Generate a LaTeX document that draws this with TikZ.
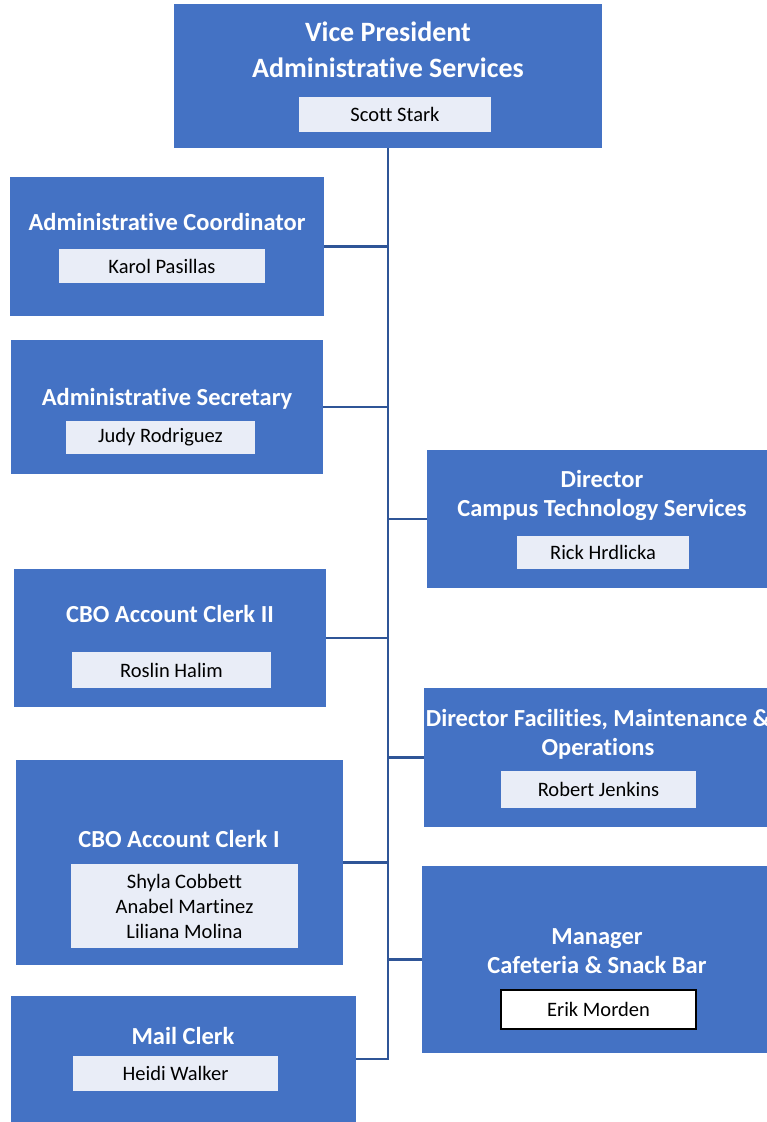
\documentclass[tikz,border=0pt]{standalone}
\usepackage{fontspec}
\setmainfont{Carlito}[Ligatures={NoCommon}]
\usetikzlibrary{positioning}
\definecolor{boxblue}{HTML}{4472C4}
\definecolor{namefill}{HTML}{E9EDF7}
\definecolor{linkblue}{HTML}{2F5597}
\begin{document}
\begin{tikzpicture}[x=1pt, y=-1pt, thick]
  \tikzstyle{post} = [rectangle, fill=boxblue, inner sep=0pt]
  \tikzstyle{title} = [text=white, font=\fontsize{24.5}{29}\selectfont\bfseries, align=center, inner sep=0pt]
  \tikzstyle{person} = [rectangle, fill=namefill, font=\fontsize{20.5}{25}\selectfont, align=center, inner sep=0pt]
  \tikzstyle{line} = [draw=linkblue, line width=2.5pt]

  \useasboundingbox (0,0) rectangle (767,1122);

  \node [post, minimum width=428pt, minimum height=144pt] (vp) at (388,76) {};
  \node [title, font=\fontsize{28}{36}\selectfont\bfseries] (vptitle) at (388,50) {Vice President\\Administrative Services};
  \node [person, minimum width=192pt, minimum height=35pt] (vpname) at (395,114.5) {Scott Stark};

  \node [post, minimum width=314pt, minimum height=139pt] (coord) at (167,246.5) {};
  \node [title] (coordtitle) at (167,222) {Administrative Coordinator};
  \node [person, minimum width=206pt, minimum height=34pt] (coordname) at (162,266) {Karol Pasillas};

  \node [post, minimum width=312pt, minimum height=134pt] (sec) at (167,407) {};
  \node [title] (sectitle) at (167,399) {Administrative Secretary};
  \node [person, minimum width=189pt, minimum height=33pt] (secname) at (160.5,437.5) {Judy Rodriguez};

  \node [post, minimum width=340pt, minimum height=138pt] (cts) at (597,519) {};
  \node [title] (ctstitle) at (602,495.5) {Director\\Campus Technology Services};
  \node [person, minimum width=172pt, minimum height=33pt] (ctsname) at (603,552.5) {Rick Hrdlicka};

  \node [post, minimum width=312pt, minimum height=138pt] (clerktwo) at (170,638) {};
  \node [title] (clerktwotitle) at (170,614) {CBO Account Clerk II};
  \node [person, minimum width=199pt, minimum height=36pt] (clerktwoname) at (171.5,670) {Roslin Halim};

  \node [post, minimum width=343pt, minimum height=139pt] (fac) at (595.5,757.5) {};
  \node [title] (factitle) at (598,734) {Director Facilities, Maintenance \&\\Operations};
  \node [person, minimum width=195pt, minimum height=37pt] (facname) at (598.5,789.5) {Robert Jenkins};

  \node [post, minimum width=327pt, minimum height=205pt] (clerkone) at (179.5,862.5) {};
  \node [title] (clerkonetitle) at (179,839) {CBO Account Clerk I};
  \node [person, minimum width=227pt, minimum height=84pt] (clerkonename) at (184.5,906) {Shyla Cobbett\\Anabel Martinez\\Liliana Molina};

  \node [post, minimum width=345pt, minimum height=187pt] (mgr) at (594.5,959.5) {};
  \node [title] (mgrtitle) at (597,951) {Manager\\Cafeteria \& Snack Bar};
  \node [person, fill=white, draw=black, line width=1.5pt, minimum width=195pt, minimum height=39pt] (mgrname) at (598.5,1009.5) {Erik Morden};

  \node [post, minimum width=345pt, minimum height=126pt] (mail) at (183.5,1059) {};
  \node [title] (mailtitle) at (183,1036) {Mail Clerk};
  \node [person, minimum width=205pt, minimum height=35pt] (mailname) at (175.5,1073.5) {Heidi Walker};

  % reporting lines
  \path [line] (vp.south) -- (vp.south |- mail.east) -- (mail.east);
  \path [line] (coord.east) -- (coord.east -| vp.south);
  \path [line] (sec.east) -- (sec.east -| vp.south);
  \path [line] (cts.west) -- (cts.west -| vp.south);
  \path [line] (clerktwo.east) -- (clerktwo.east -| vp.south);
  \path [line] (fac.west) -- (fac.west -| vp.south);
  \path [line] (clerkone.east) -- (clerkone.east -| vp.south);
  \path [line] (mgr.west) -- (mgr.west -| vp.south);
\end{tikzpicture}
\end{document}
